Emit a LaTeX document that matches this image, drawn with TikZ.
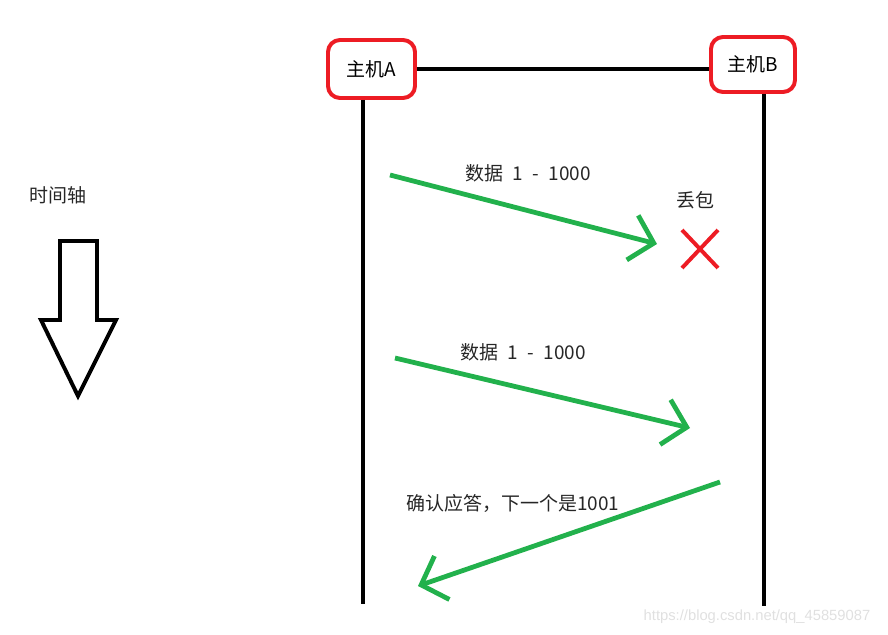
\documentclass[tikz,border=0pt]{standalone}
\usepackage{fontspec}
\newfontfamily\cjk{Noto Sans CJK SC}
\setsansfont{Liberation Sans}
\usetikzlibrary{arrows.meta}
\definecolor{paintred}{RGB}{237,28,36}
\definecolor{paintgreen}{RGB}{34,177,76}
\tikzset{
	host/.style={draw=paintred, line width=2.8pt, rounded corners=0.3cm, font=\cjk\fontsize{13.5}{16}\selectfont},
	wire/.style={black, line width=2.8pt},
	msg/.style={paintgreen, line width=3.4pt, -{Straight Barb[length=0.55cm, width=1.15cm]}},
	txt/.style={font=\cjk\fontsize{13.5}{16}\selectfont, text=black!85},
}
\begin{document}
\begin{tikzpicture}[x=0.025cm, y=-0.025cm]
		\useasboundingbox (0,0) rectangle (888,635);
		
		% Host e linee di vita
		\node[host, minimum width=2.175cm, minimum height=1.45cm] (hostA) at (371.5,69) {主机A};
		\node[host, minimum width=2.1cm, minimum height=1.375cm] (hostB) at (753,64.5) {主机B};
		\coordinate (endA) at (363,604);
		\coordinate (endB) at (764,606);
		\draw[wire] (hostA.east) -- (hostA.east -| hostB.west);
		\draw[wire] (hostA.south -| endA) -- (endA);
		\draw[wire] (hostB.south -| endB) -- (endB);
		
		% Asse del tempo
		\node[txt] (asse) at (58,195) {时间轴};
		\draw[wire, line join=miter] (60,241) -- (97,241) -- (97,320) -- (116,320) -- (78,396) -- (41,320) -- (60,320) -- cycle;
		
		% Primo invio - perso
		\coordinate (s1) at (390,175);
		\coordinate (e1) at (657,244);
		\draw[msg] (s1) -- (e1);
		\node[txt] (lbl1) at (528,173) {数据\enspace 1\enspace -\enspace 1000};
		\node[txt] (perso) at (695,200) {丢包};
		\draw[paintred, line width=2.8pt] (682,230) -- (718,268);
		\draw[paintred, line width=2.8pt] (718,230) -- (682,268);
		
		% Ritrasmissione
		\coordinate (s2) at (395,358);
		\coordinate (e2) at (690,428);
		\draw[msg] (s2) -- (e2);
		\node[txt] (lbl2) at (523,352) {数据\enspace 1\enspace -\enspace 1000};
		
		% Conferma
		\coordinate (s3) at (720,482);
		\coordinate (e3) at (418,586);
		\draw[msg] (s3) -- (e3);
		\node[txt] (lbl3) at (513,503) {确认应答，下一个是1001};
		
		% Filigrana
		\node[font=\sffamily\fontsize{10.5}{12}\selectfont, text=black!12] (wm) at (757,617) {https://blog.csdn.net/qq\_45859087};
	\end{tikzpicture}
\end{document}
